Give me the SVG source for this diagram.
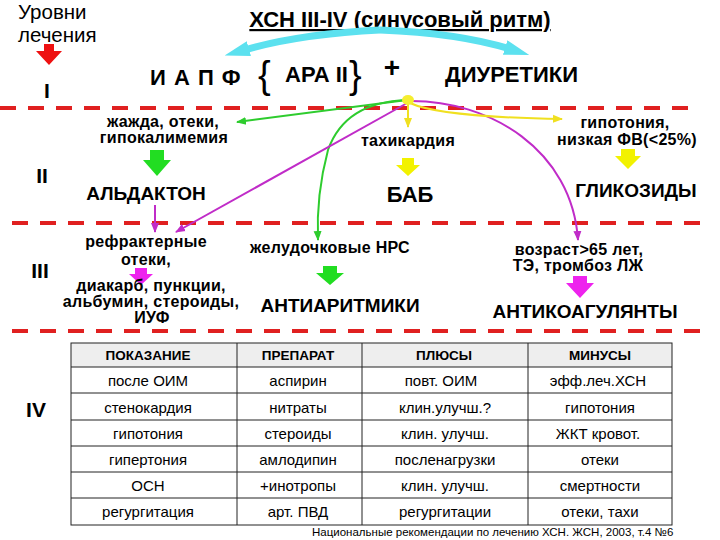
<svg xmlns="http://www.w3.org/2000/svg" width="720" height="540" viewBox="0 0 720 540">
<defs>
<style>
text{font-family:"Liberation Sans",Arial,sans-serif;fill:#000}
.lvl{font-size:21px;font-weight:bold;text-anchor:middle}
.lbl{font-size:16px;font-weight:bold;text-anchor:middle;letter-spacing:0.3px}
.drug{font-size:19px;font-weight:bold;text-anchor:middle}
.big{font-size:22px;font-weight:bold}
.dash{stroke:#e02020;stroke-width:4;stroke-dasharray:16 12;fill:none}
.cyan{stroke:#5ce1ef;stroke-width:7;fill:none}
.g{stroke:#2ecc2e;stroke-width:2;fill:none}
.m{stroke:#c02cc8;stroke-width:2;fill:none}
.y{stroke:#f0e020;stroke-width:2;fill:none}
.th{font-size:13.5px;font-weight:bold;text-anchor:middle}
.td{font-size:15px;text-anchor:middle}
.grid{stroke:#222;stroke-width:1;fill:none}
</style>
<marker id="ac" viewBox="0 0 10 6" refX="2" refY="3" markerWidth="3.6" markerHeight="2.16" orient="auto"><path d="M0,0 L10,3 L0,6 z" fill="#5ce1ef"/></marker>
<marker id="ag" viewBox="0 0 10 10" refX="9" refY="5" markerWidth="5" markerHeight="5" orient="auto"><path d="M0,1 L10,5 L0,9 z" fill="#2ecc2e"/></marker>
<marker id="am" viewBox="0 0 10 10" refX="9" refY="5" markerWidth="5" markerHeight="5" orient="auto"><path d="M0,1 L10,5 L0,9 z" fill="#c02cc8"/></marker>
<marker id="ay" viewBox="0 0 10 10" refX="9" refY="5" markerWidth="5" markerHeight="5" orient="auto"><path d="M0,1 L10,5 L0,9 z" fill="#f0e020"/></marker>
</defs>
<rect width="720" height="540" fill="#fff"/>

<g id="separators">
<line class="dash" x1="0" y1="108" x2="690" y2="108"/>
<line class="dash" x1="12" y1="223" x2="703" y2="223"/>
<line class="dash" x1="12" y1="331" x2="703" y2="331"/>
</g>

<g id="levels-header">
<text x="18" y="19" font-size="20.5">Уровни</text>
<text x="18" y="42" font-size="20.5">лечения</text>
<path d="M44,44 H54 V51 H62 L49,65 L36,51 H44 Z" fill="#ee1111"/>
</g>
<g id="level-I"><text class="lvl" x="47" y="98">I</text></g>
<g id="level-II"><text class="lvl" x="42" y="183">II</text></g>
<g id="level-III"><text class="lvl" x="40" y="278">III</text></g>
<g id="level-IV"><text class="lvl" x="36" y="417" font-size="23">IV</text></g>

<g id="title">
<text class="big" x="400" y="27" text-anchor="middle" text-decoration="underline">ХСН III-IV (синусовый ритм)</text>
</g>

<g id="connectors">
<path class="cyan" d="M380,30 Q300,34 244,50" marker-end="url(#ac)"/>
<path class="cyan" d="M380,30 Q458,33 510,49" marker-end="url(#ac)"/>
<path class="g" d="M407,100 Q330,110 237,122" marker-end="url(#ag)"/>
<path class="g" d="M407,100 Q345,102 328,150 Q316,195 318,240" marker-end="url(#ag)"/>
<path class="m" d="M409,102 L176,232" marker-end="url(#am)"/>
<path class="m" d="M409,101 C490,100 572,150 578,240" marker-end="url(#am)"/>
<path class="y" d="M410,103 Q440,117 562,119" marker-end="url(#ay)"/>
<path class="y" d="M408,104 L408,127" marker-end="url(#ay)"/>
<path class="m" d="M155,205 L155,232" marker-end="url(#am)"/>
<ellipse cx="408" cy="100" rx="6" ry="5" fill="#f5ee30"/>
</g>

<g id="node-iapf"><text class="big" x="150" y="85" letter-spacing="1">И А П Ф</text></g>
<g id="node-ara">
<text x="258" y="88" font-size="38">{</text>
<text class="big" x="285" y="82">АРА II</text>
<text x="349" y="88" font-size="38">}</text>
</g>
<g id="node-plus"><text x="392" y="77" font-size="28" font-weight="bold" text-anchor="middle">+</text></g>
<g id="node-diuretics"><text class="big" x="445" y="82">ДИУРЕТИКИ</text></g>

<g id="node-thirst">
<text class="lbl" x="163" y="127">жажда, отеки,</text>
<text class="lbl" x="164" y="143">гипокалимемия</text>
<path d="M150,150 H164 V160 H171 L157,176 L143,160 H150 Z" fill="#22dd22"/>
</g>
<g id="node-aldacton"><text class="drug" x="146" y="200">АЛЬДАКТОН</text></g>

<g id="node-tachy">
<text class="lbl" x="408" y="146">тахикардия</text>
<path d="M402,158 H414 V165 H420 L408,176 L396,165 H402 Z" fill="#f2f200"/>
</g>
<g id="node-bab"><text class="big" x="410" y="202" text-anchor="middle">БАБ</text></g>

<g id="node-hypotension">
<text class="lbl" x="625" y="128">гипотония,</text>
<text class="lbl" x="627" y="145">низкая ФВ(&lt;25%)</text>
<path d="M621,149 H635 V156 H641 L628,169 L615,156 H621 Z" fill="#f2f200"/>
</g>
<g id="node-glycosides"><text class="drug" x="636" y="197">ГЛИКОЗИДЫ</text></g>

<g id="node-refractory">
<text class="lbl" x="146" y="247">рефрактерные</text>
<text class="lbl" x="146" y="265">отеки,</text>
<path d="M135,268 H147 V274 H153 L141,285 L129,274 H135 Z" fill="#ee22ee"/>
</g>
<g id="node-diacarb">
<text class="lbl" x="151" y="291">диакарб, пункции,</text>
<text class="lbl" x="151" y="307">альбумин, стероиды,</text>
<text class="lbl" x="152" y="323">ИУФ</text>
</g>

<g id="node-vent">
<text class="lbl" x="330" y="253">желудочковые НРС</text>
<path d="M323,266 H337 V273 H344 L330,285 L316,273 H323 Z" fill="#22dd22"/>
</g>
<g id="node-antiarrhythmic"><text class="drug" x="340" y="312">АНТИАРИТМИКИ</text></g>

<g id="node-age">
<text class="lbl" x="579" y="255">возраст&gt;65 лет,</text>
<text class="lbl" x="578" y="271">ТЭ, тромбоз ЛЖ</text>
<path d="M573,276 H587 V283 H594 L580,298 L566,283 H573 Z" fill="#ee22ee"/>
</g>
<g id="node-anticoag"><text class="drug" x="585" y="318">АНТИКОАГУЛЯНТЫ</text></g>

<g id="table">
<rect x="71" y="343" width="601" height="24" fill="#eeeeee"/>
<rect class="grid" x="71" y="343" width="601" height="182"/>
<g class="grid">
<line x1="71" y1="367" x2="672" y2="367"/>
<line x1="71" y1="393" x2="672" y2="393"/>
<line x1="71" y1="420" x2="672" y2="420"/>
<line x1="71" y1="446" x2="672" y2="446"/>
<line x1="71" y1="472" x2="672" y2="472"/>
<line x1="71" y1="498" x2="672" y2="498"/>
<line x1="237" y1="343" x2="237" y2="525"/>
<line x1="362" y1="343" x2="362" y2="525"/>
<line x1="528" y1="343" x2="528" y2="525"/>
</g>
<text class="th" x="148" y="360">ПОКАЗАНИЕ</text>
<text class="th" x="298" y="360">ПРЕПАРАТ</text>
<text class="th" x="444" y="360">ПЛЮСЫ</text>
<text class="th" x="600" y="360">МИНУСЫ</text>

<text class="td" x="148" y="386">после ОИМ</text>
<text class="td" x="298" y="386">аспирин</text>
<text class="td" x="441" y="386">повт. ОИМ</text>
<text class="td" x="598" y="386">эфф.леч.ХСН</text>

<text class="td" x="148" y="413">стенокардия</text>
<text class="td" x="298" y="413">нитраты</text>
<text class="td" x="445" y="413">клин.улучш.?</text>
<text class="td" x="600" y="413">гипотония</text>

<text class="td" x="148" y="439">гипотония</text>
<text class="td" x="298" y="439">стероиды</text>
<text class="td" x="445" y="439">клин. улучш.</text>
<text class="td" x="598" y="439">ЖКТ кровот.</text>

<text class="td" x="148" y="465">гипертония</text>
<text class="td" x="298" y="465">амлодипин</text>
<text class="td" x="445" y="465">посленагрузки</text>
<text class="td" x="600" y="465">отеки</text>

<text class="td" x="148" y="491">ОСН</text>
<text class="td" x="298" y="491">+инотропы</text>
<text class="td" x="445" y="491">клин. улучш.</text>
<text class="td" x="600" y="491">смертности</text>

<text class="td" x="148" y="517">регургитация</text>
<text class="td" x="298" y="517">арт. ПВД</text>
<text class="td" x="445" y="517">регургитации</text>
<text class="td" x="600" y="517">отеки, тахи</text>
</g>

<g id="footer"><text x="312" y="536" font-size="11.5">Национальные рекомендации по лечению ХСН. ЖСН, 2003, т.4 №6</text></g>
</svg>
